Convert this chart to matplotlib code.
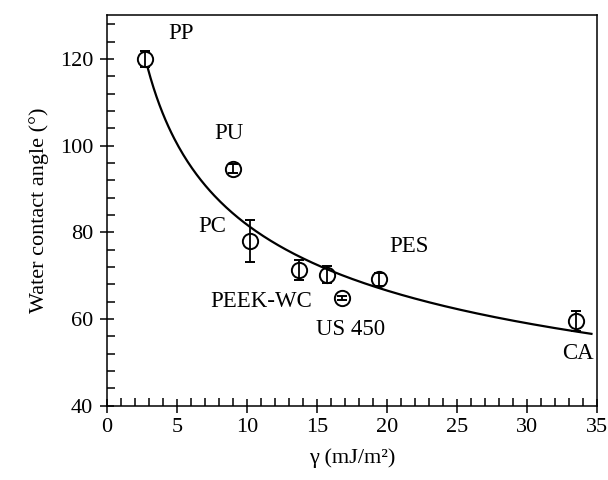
import numpy as np
import matplotlib
matplotlib.use("Agg")
import matplotlib.pyplot as plt
from matplotlib.ticker import MultipleLocator

plt.rcParams['font.family'] = ['Liberation Serif', 'DejaVu Serif']

# surface free energy component (mJ/m2) vs water contact angle
names = ["PP", "PU", "PC", "PEEK-WC", "", "US 450", "PES", "CA"]
gamma = [2.7, 9.0, 10.2, 13.7, 15.7, 16.8, 19.4, 33.5]
angle = [120.0, 94.7, 78.0, 71.3, 70.2, 64.8, 69.2, 59.5]
err = [1.9, 1.0, 4.9, 2.3, 2.0, 0.5, 1.5, 2.3]

# label positions (data coords)
lab_x = [5.3, 8.7, 7.5, 11.0, 0, 17.4, 21.6, 33.6]
lab_y = [126.0, 102.9, 81.3, 64.0, 0, 57.5, 76.7, 52.1]

# power-law fit y = a * x^b
b, log_a = np.polyfit(np.log(gamma), np.log(angle), 1)
xf = np.linspace(2.9, 34.6, 300)
yf = np.exp(log_a) * xf ** b

fig = plt.figure(figsize=(6.08, 4.8), dpi=100)
ax = fig.add_axes([0.176, 0.155, 0.806, 0.814])

ax.plot(xf, yf, color="black", lw=1.6)
ax.errorbar(gamma, angle, yerr=err, fmt="o", ms=11, mfc="none", mec="black",
            mew=1.4, ecolor="black", elinewidth=1.3, capsize=3.8, capthick=1.3)

for n, x, y in zip(names, lab_x, lab_y):
    if n:
        ax.text(x, y, n, ha="center", va="center", fontsize=16.5)

ax.set_xlim(0, 35)
ax.set_ylim(40, 130.2)
ax.xaxis.set_major_locator(MultipleLocator(5))
ax.xaxis.set_minor_locator(MultipleLocator(1))
ax.yaxis.set_major_locator(MultipleLocator(20))
ax.yaxis.set_minor_locator(MultipleLocator(4))
ax.tick_params(which="major", direction="inout", length=10, width=1.1,
               labelsize=16, top=False, right=False)
ax.tick_params(which="minor", direction="in", length=5.5, width=1.1,
               top=False, right=False)
ax.tick_params(axis="x", which="major", pad=4)
ax.tick_params(axis="y", which="major", pad=5)
for s in ax.spines.values():
    s.set_linewidth(1.1)

ax.set_xlabel("γ (mJ/m²)", fontsize=16, labelpad=8)
ax.set_ylabel("Water contact angle (°)", fontsize=16, labelpad=8)

fig.savefig("out.png", dpi=100)
